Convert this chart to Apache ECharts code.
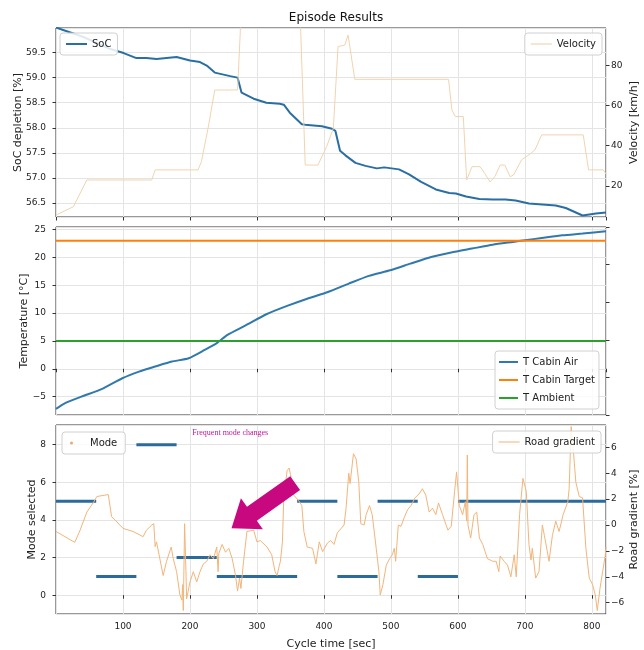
<!DOCTYPE html>
<html>
<head>
<meta charset="utf-8">
<script src="https://cdn.jsdelivr.net/npm/echarts@6/dist/echarts.min.js"></script>
<style>
html,body{margin:0;padding:0;background:#fff;}
#main{width:644px;height:650px;}
</style>
</head>
<body>
<div id="main"></div>
<script>
// ---- Data ----
const socTime  = [0,41,81,101,120,135,150,180,200,215,225,237,260,271,277,295,314,334,340,349,367,372,397,412,417,424,432,447,462,479,490,512,527,545,567,587,597,612,632,652,671,686,706,726,746,761,776,786,796,806,821];
const socValue = [60.0,59.81,59.57,59.49,59.39,59.39,59.37,59.41,59.34,59.31,59.24,59.1,59.03,59.0,58.7,58.58,58.5,58.48,58.46,58.3,58.07,58.06,58.03,57.98,57.94,57.54,57.45,57.3,57.24,57.19,57.21,57.17,57.07,56.92,56.77,56.7,56.69,56.63,56.58,56.57,56.57,56.55,56.49,56.47,56.45,56.4,56.31,56.25,56.27,56.29,56.31];

const velTime  = [0,26,46,143,148,212,217,227,237,271,275,278,362,372,391,404,414,421,431,436,446,586,591,596,608,613,621,633,640,648,655,663,670,678,683,695,708,715,725,787,795,817,821];
const velValue = [5.6,9.7,23,23,28,28,32,48.7,67.7,67.7,96,130,130,30.4,30.4,39.6,48.7,89.3,90,95,73,73,57.8,54.5,54.5,23,29.6,29.6,26.3,22,24.6,30.4,30.4,24.6,25.5,33,36,38,45.4,45.4,28,28,26];

const tempTime  = [0,13,38,69,99,124,148,173,198,222,240,256,283,314,345,375,406,437,467,499,529,560,590,621,652,682,700,725,756,786,821];
const tempValue = [-7.2,-6.2,-5.0,-3.6,-1.7,-0.5,0.4,1.3,1.9,3.4,4.6,6.1,7.8,9.8,11.3,12.6,13.8,15.3,16.7,17.7,18.9,20.1,20.9,21.6,22.3,22.8,23.1,23.5,24.0,24.3,24.7];
const tempTarget  = 23;
const tempAmbient = 5;

const modeStart = [0,60,120,180,240,360,420,480,540,600];
const modeEnd   = [60,120,180,240,360,420,480,540,600,821];
const modeValue = [5,1,8,2,1,5,1,5,1,5];

const gradTime  = [0,28,36,46,56,61,63,78,83,88,100,115,130,135,143,146,148,150,160,165,172,175,180,185,188,189,190,192,194,195,200,205,210,215,220,225,230,235,240,242,243,248,253,258,263,268,271,274,276,280,285,295,300,305,315,322,327,330,333,335,338,340,345,348,350,355,362,367,370,375,383,388,393,398,405,410,415,420,425,430,433,437,439,444,448,452,455,460,463,468,472,478,482,484,488,493,498,502,505,507,511,515,520,525,530,536,542,547,552,557,562,567,571,577,585,590,595,598,602,607,611,613,614,615,619,624,628,632,637,644,652,657,661,663,669,674,679,684,687,692,697,702,706,709,711,716,721,726,729,736,741,746,751,757,764,766,769,772,776,781,786,791,796,801,805,808,812,816,820,821];
const gradValue = [-0.5,-1.34,-0.4,1.0,1.75,2.2,2.35,2.35,0.64,0.4,-0.26,-0.5,-0.9,-0.4,0,0.1,-1.67,-1.3,-3.9,-2.8,-1.7,-2.6,-3.6,-5.4,-5.8,-4.6,-6.6,0.1,-3.6,-5.7,-4.4,-3.6,-4.4,-3.6,-3.0,-2.8,-2.3,-2.6,-1.7,-3.6,-2.2,-1.5,-2.1,-1.8,-2.6,-3.9,-5.1,-4.1,-4.9,-2.8,-0.5,-0.4,-1.3,-1.2,-1.7,-2.3,-3.6,-3.9,-3.2,-2.8,-1.3,2.1,4.2,4.4,3.9,2.3,1.9,1.5,-0.5,-1.7,-1.8,-3.0,-1.3,-2.06,-1.4,-1.2,-1.5,-0.6,-0.3,0,1.3,4.0,3.2,5.5,5.1,3.3,0.1,0,0.8,1.5,0.8,-1.8,-3.6,-5.4,-4.6,-3.1,-2.6,-2.3,-1.8,-2.8,0,-0.1,0.6,1.2,1.5,2.1,2.4,2.8,2.3,1.0,1.3,0.8,1.7,0.8,-0.4,-0.1,2.6,4.1,1.5,0.8,1.8,0.3,5.4,0,-1.0,0.8,1.0,-1.0,-1.5,-2.6,-2.8,-2.8,-3.6,-2.4,-2.8,-3.1,-4.0,-2.3,-4.0,0.8,3.6,2.6,-1.5,-2.7,-1.8,-4.1,-3.6,0,-0.8,-2.8,-0.8,0.3,-0.5,0.8,1.8,2.8,7.6,5.9,3.3,2.2,2.1,-1.8,-4.1,-4.6,-5.4,-6.6,-4.9,-3.6,-2.3,-1.7];

const xAxisName = 'Cycle time [sec]';

// ---- Build ----
const zip = (a, b) => a.map((v, i) => [v, b[i]]);
const modeData = [];
modeValue.forEach((v, i) => { modeData.push([modeStart[i], v], [modeEnd[i], v], [modeEnd[i], '-']); });

const FONT = "'DejaVu Sans', sans-serif";
const minus = v => String(v).replace('-', '\u2212');
const X_MIN = 0, X_MAX = 821;

const grids = [
  {left: 56, top: 28, width: 550, height: 189},
  {left: 56, top: 227, width: 550, height: 188},
  {left: 56, top: 425, width: 550, height: 189}
].map(g => Object.assign(g, {show: true, borderColor: '#333', borderWidth: 1, backgroundColor: 'transparent',
                             containLabel: false, outerBoundsMode: 'none'}));

function xAx(i, showLabels) {
  return {
    type: 'value', gridIndex: i, min: X_MIN, max: X_MAX, interval: 100,
    axisLine: {show: false},
    axisTick: {show: true, inside: false, length: 3.5, lineStyle: {color: '#333'}},
    axisLabel: {show: showLabels, showMinLabel: false, showMaxLabel: false, fontFamily: FONT, fontSize: 9, color: '#222', margin: 8},
    splitLine: {show: true, lineStyle: {color: '#e4e4e4', width: 1}},
    name: showLabels ? xAxisName : '', nameLocation: 'middle', nameGap: 25, nameMoveOverlap: false,
    nameTextStyle: {fontFamily: FONT, fontSize: 11, color: '#222'}
  };
}
function yAx(grid, pos, min, max, extra, name, nameGap, showSplit) {
  return Object.assign({
    type: 'value', gridIndex: grid, position: pos, min: min, max: max,
    axisLine: {show: false},
    axisTick: {show: true, inside: false, length: 3.5, lineStyle: {color: '#333'}},
    axisLabel: {show: true, showMinLabel: false, showMaxLabel: false, fontFamily: FONT, fontSize: 9, color: '#222', margin: pos === 'left' ? 10 : 5},
    splitLine: {show: showSplit, lineStyle: {color: '#e4e4e4', width: 1}},
    name: name, nameLocation: 'middle', nameGap: nameGap, nameMoveOverlap: false,
    nameTextStyle: {fontFamily: FONT, fontSize: 11, color: '#222'}
  }, extra);
}

const yAxes = [
  yAx(0, 'left', 56.22, 59.99, {splitNumber: 7}, 'SoC depletion [%]', 32, true),
  yAx(0, 'right', 4.6, 98.5, {splitNumber: 5}, 'Velocity [km/h]', 23, false),
  yAx(1, 'left', -8.3, 25.48, {splitNumber: 5}, 'Temperature [\u00b0C]', 26, true),
  yAx(1, 'right', 0, 1, {interval: 0.2}, '', 10, false),
  yAx(2, 'left', -1.0, 9.05, {splitNumber: 5}, 'Mode selected', 18, true),
  yAx(2, 'right', -6.87, 7.72, {splitNumber: 7}, 'Road gradient [%]', 23, false)
];
yAxes[0].axisLabel.formatter = v => v.toFixed(1);
yAxes[1].axisLabel.formatter = v => minus(v);
yAxes[2].axisLabel.formatter = v => minus(v);
yAxes[3].axisLabel.show = false;
yAxes[4].axisLabel.formatter = v => minus(v);
yAxes[5].axisLabel.formatter = v => minus(v);

const legendBase = {
  backgroundColor: 'rgba(255,255,255,0.85)', borderColor: '#d0d0d0', borderWidth: 1, borderRadius: 3,
  padding: [5, 6], itemWidth: 21, itemHeight: 2, itemGap: 6, icon: 'rect',
  textStyle: {fontFamily: FONT, fontSize: 10, color: '#222', lineHeight: 12}
};
const L = o => Object.assign({}, legendBase, o);

const option = {
  animation: false,
  backgroundColor: '#fff',
  title: {text: 'Episode Results', left: 331, top: 7, textAlign: 'center',
          textStyle: {fontFamily: FONT, fontSize: 12, fontWeight: 'normal', color: '#111'}},
  grid: grids,
  xAxis: [xAx(0, false), xAx(1, false), xAx(2, true)],
  yAxis: yAxes,
  legend: [
    L({data: ['SoC'], left: 60, top: 33}),
    L({data: ['Velocity'], right: 42, top: 33, itemHeight: 1}),
    L({data: ['T Cabin Air', 'T Cabin Target', 'T Ambient'], orient: 'vertical', left: 495, top: 351, itemWidth: 19, padding: [5, 4]}),
    L({data: [{name: 'Mode', icon: 'circle'}], left: 62, top: 432, itemWidth: 3, itemHeight: 3,
       textStyle: {fontFamily: FONT, fontSize: 10, color: '#222', lineHeight: 12, padding: [0, 0, 0, 12]}, padding: [5, 8, 5, 8]}),
    L({data: ['Road gradient'], right: 43, top: 431, itemHeight: 1})
  ],
  series: [
    {name: 'SoC', type: 'line', xAxisIndex: 0, yAxisIndex: 0, data: zip(socTime, socValue), symbol: 'none',
     lineStyle: {color: '#2a6fa3', width: 2}, itemStyle: {color: '#2a6fa3'}},
    {name: 'Velocity', type: 'line', xAxisIndex: 0, yAxisIndex: 1, data: zip(velTime, velValue), symbol: 'none',
     lineStyle: {color: '#f1d3b0', width: 1}, itemStyle: {color: '#eccaa3'}},
    {name: 'T Cabin Air', type: 'line', xAxisIndex: 1, yAxisIndex: 2, data: zip(tempTime, tempValue), symbol: 'none', smooth: 0.2,
     lineStyle: {color: '#3079ad', width: 2}, itemStyle: {color: '#3079ad'}},
    {name: 'T Cabin Target', type: 'line', xAxisIndex: 1, yAxisIndex: 2, data: [[X_MIN, tempTarget], [X_MAX, tempTarget]], symbol: 'none',
     lineStyle: {color: '#ff7f0e', width: 2}, itemStyle: {color: '#ff7f0e'}},
    {name: 'T Ambient', type: 'line', xAxisIndex: 1, yAxisIndex: 2, data: [[X_MIN, tempAmbient], [X_MAX, tempAmbient]], symbol: 'none',
     lineStyle: {color: '#2ca02c', width: 2}, itemStyle: {color: '#2ca02c'}},
    {name: 'Mode', type: 'line', xAxisIndex: 2, yAxisIndex: 4, data: modeData, symbol: 'none', connectNulls: false,
     lineStyle: {color: '#2a6a9c', width: 3}, itemStyle: {color: '#e8a878'}},
    {name: 'Road gradient', type: 'line', xAxisIndex: 2, yAxisIndex: 5, data: zip(gradTime, gradValue), symbol: 'none',
     lineStyle: {color: '#f2b57a', width: 1}, itemStyle: {color: '#f0b27a'}}
  ]
};

const chart = echarts.init(document.getElementById('main'), null, {renderer: 'canvas'});
chart.setOption(option);

// ---- Annotations (arrow + note), placed in data coordinates of the bottom panel ----
const arrowTip = [262, 3.56], arrowTail = [357, 5.96];
const noteAt = [260, 8.63];
const P = p => chart.convertToPixel({xAxisIndex: 2, yAxisIndex: 4}, p);
const tip = P(arrowTip), tail = P(arrowTail), note = P(noteAt);
const dx = tail[0] - tip[0], dy = tail[1] - tip[1], len = Math.hypot(dx, dy);
const ux = dx / len, uy = dy / len, nx = -uy, ny = ux;
const headLen = 25, headHalf = 19, shaftHalf = 8.5;
const bx = tip[0] + ux * headLen, by = tip[1] + uy * headLen;
const poly = [
  tip,
  [bx + nx * headHalf, by + ny * headHalf],
  [bx + nx * shaftHalf, by + ny * shaftHalf],
  [tail[0] + nx * shaftHalf, tail[1] + ny * shaftHalf],
  [tail[0] - nx * shaftHalf, tail[1] - ny * shaftHalf],
  [bx - nx * shaftHalf, by - ny * shaftHalf],
  [bx - nx * headHalf, by - ny * headHalf]
];
chart.setOption({
  graphic: [
    {type: 'polygon', shape: {points: poly}, style: {fill: '#c8087f'}, z: 100},
    {type: 'text', x: note[0], y: note[1], z: 100,
     style: {text: 'Frequent mode changes', fill: '#c0169a', font: "8px 'Liberation Serif', 'DejaVu Serif', serif", align: 'center', verticalAlign: 'middle'}}
  ]
});
</script>
</body>
</html>
